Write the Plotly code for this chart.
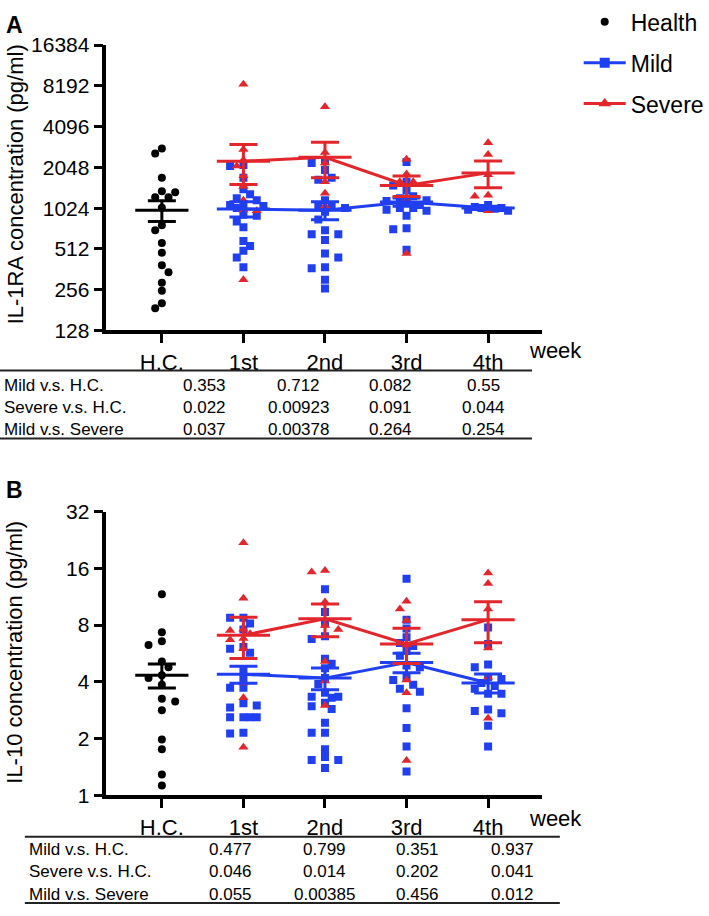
import numpy as np
import plotly.graph_objects as go

W, H = 709, 916
BLUE = '#1f3ff0'
RED = '#e2262c'
FONT = 'Liberation Sans, Arial, sans-serif'

groups = ['H.C.', '1st', '2nd', '3rd', '4th']
week_pos = [1, 2, 3, 4]

# ---- panel A: IL-1RA (pg/ml) ----
il1ra_health = [2820, 2597, 1716, 1364, 1343, 1235, 1235, 1030, 765, 704,
                567, 480, 388, 345, 288, 252, 203, 187]
il1ra_mild_w1 = [2133, 2098, 1718, 1410, 1297, 1213, 1174, 1099, 1081, 1063,
                 1029, 916, 901, 817, 739, 586, 539, 497, 443, 375]
il1ra_mild_w2 = [2279, 2205, 1961, 1718, 1661, 1174, 1081, 1081, 1029, 963,
                 844, 703, 658, 658, 596, 473, 443, 375, 369, 303, 261]
il1ra_mild_w3 = [2242, 1608, 1508, 1386, 1254, 1213, 1174, 1155, 1117, 1081,
                 1029, 1029, 996, 979, 901, 727, 715, 505]
il1ra_mild_w4 = [1081, 1046, 1029, 1013, 996, 1029, 979]
il1ra_severe_w1 = [8410, 2781, 2325, 2098, 1777, 1483, 1174, 994, 982, 303]
il1ra_severe_w2 = [5740, 2640, 2205, 1606, 1320, 1063]
il1ra_severe_w3 = [2353, 1835, 1608, 1608, 1193, 473]
il1ra_severe_w4 = [3115, 2555, 1805, 1274, 1254, 979]

il1ra_health_mean, il1ra_health_sem = 990, 174
il1ra_mild_mean = [1010, 990, 1136, 1029]
il1ra_mild_sem = [130, 150, 80, 25]
il1ra_severe_mean = [2279, 2430, 1508, 1866]
il1ra_severe_sem = [750, 710, 260, 415]
il1ra_ticks = [128, 256, 512, 1024, 2048, 4096, 8192, 16384]

# ---- panel B: IL-10 (pg/ml) ----
il10_health = [11.65, 7.33, 6.58, 6.28, 5.13, 4.78, 4.34, 4.19, 3.86, 3.26,
               3.15, 2.83, 1.98, 1.76, 1.29, 1.13]
il10_mild_w1 = [8.76, 8.76, 8.15, 7.59, 6.13, 5.99, 5.71, 4.66, 4.19, 3.72,
                3.72, 3.08, 3.00, 2.93, 2.60, 2.60, 2.60, 2.60, 2.15, 2.13]
il10_mild_w2 = [12.4, 9.4, 8.15, 6.99, 6.75, 5.31, 5.0, 4.72, 4.19, 3.9, 3.5,
                3.34, 3.3, 3.34, 3.1, 2.97, 2.87, 2.43, 2.15, 2.15, 1.76, 1.54,
                1.54, 1.60, 1.40]
il10_mild_w3 = [14.1, 8.55, 7.68, 6.90, 6.43, 6.20, 5.84, 5.51, 4.89, 4.78,
                4.24, 4.09, 3.86, 3.68, 3.55, 2.90, 2.28, 1.82, 1.34]
il10_mild_w4 = [7.78, 6.35, 4.95, 4.78, 4.24, 4.14, 3.95, 3.81, 3.68, 3.46,
                3.46, 2.86, 2.80, 2.73, 2.34, 1.82]
il10_severe_w1 = [21.9, 11.1, 7.6, 7.5, 7.2, 6.8, 6.7, 6.0, 3.95, 3.30, 1.80]
il10_severe_w2 = [15.3, 15.6, 10.6, 7.96, 7.59, 5.13, 4.04, 3.0]
il10_severe_w3 = [10.7, 9.75, 8.46, 6.28, 4.09, 3.5, 1.53]
il10_severe_w4 = [15.1, 13.3, 9.75, 6.06, 4.24, 2.57]

il10_health_mean, il10_health_sem = 4.34, 0.63
il10_mild_mean = [4.39, 4.19, 5.07, 3.95]
il10_mild_sem = [0.46, 0.55, 0.6, 0.46]
il10_severe_mean = [7.07, 8.65, 6.36, 8.55]
il10_severe_sem = [1.75, 1.7, 1.35, 2.1]
il10_ticks = [1, 2, 4, 8, 16, 32]

# ---- p-value tables ----
table_rows = ['Mild v.s. H.C.', 'Severe v.s. H.C.', 'Mild v.s. Severe']
il1ra_p = [['0.353', '0.712', '0.082', '0.55'],
           ['0.022', '0.00923', '0.091', '0.044'],
           ['0.037', '0.00378', '0.264', '0.254']]
il10_p = [['0.477', '0.799', '0.351', '0.937'],
          ['0.046', '0.014', '0.202', '0.041'],
          ['0.055', '0.00385', '0.456', '0.012']]


def fx(px):
    return px / W


def fy(py):
    return 1 - py / H


X0, X1 = 107, 545            # plot area in pixels
XRANGE = [-0.68, 4.66]
UNIT_PX = (X1 - X0) / (XRANGE[1] - XRANGE[0])


def swarm(values, center, oct_px, step=6.7, diam=8.0, max_n=3):
    # prism-like scatter: spread overlapping points sideways, at most max_n steps
    ys = np.log2(np.asarray(values, float)) * oct_px
    offs = np.zeros(len(ys))
    placed = []
    flip = False
    for i in np.argsort(-ys):
        cands = [0.0]
        for n in range(1, max_n + 1):
            pair = [n * step, -n * step]
            cands += pair if flip else pair[::-1]
        best, best_d = cands[0], -1
        for c in cands:
            d = min([np.hypot(c - a, ys[i] - b) for a, b in placed] or [99])
            if d >= diam:
                best = c
                break
            if d > best_d + 0.5:
                best, best_d = c, d
        if best != 0:
            flip = not flip
        placed.append((best, ys[i]))
        offs[i] = best
    return center + offs / UNIT_PX


fig = go.Figure()


def add_panel(xa, ya, oct_px, health, mild, severe, hmean, hsem,
              mmean, msem, smean, ssem):
    fig.add_trace(go.Scatter(
        x=swarm(health, 0, oct_px), y=health, mode='markers', xaxis=xa, yaxis=ya,
        marker=dict(symbol='circle', size=8, color='black'), showlegend=False))
    for k, vals in enumerate(mild):
        fig.add_trace(go.Scatter(
            x=swarm(vals, week_pos[k], oct_px), y=vals, mode='markers',
            xaxis=xa, yaxis=ya, showlegend=False,
            marker=dict(symbol='square', size=8, color=BLUE)))
    for k, vals in enumerate(severe):
        fig.add_trace(go.Scatter(
            x=swarm(vals, week_pos[k], oct_px), y=vals, mode='markers',
            xaxis=xa, yaxis=ya, showlegend=False,
            marker=dict(symbol='triangle-up', size=9, color=RED)))
    bar = dict(symbol='line-ew', size=38)
    fig.add_trace(go.Scatter(
        x=[0], y=[hmean], mode='markers', xaxis=xa, yaxis=ya, showlegend=False,
        marker=dict(**bar, color='black', line=dict(width=3, color='black')),
        error_y=dict(type='data', array=[hsem], color='black', thickness=3, width=14)))
    for mean, sem, col in [(mmean, msem, BLUE), (smean, ssem, RED)]:
        fig.add_trace(go.Scatter(
            x=week_pos, y=mean, mode='lines+markers', xaxis=xa, yaxis=ya,
            showlegend=False, line=dict(color=col, width=3),
            marker=dict(**bar, color=col, line=dict(width=3, color=col)),
            error_y=dict(type='data', array=sem, color=col, thickness=3, width=14)))


add_panel('x', 'y', (326 - 33) / 7, il1ra_health,
          [il1ra_mild_w1, il1ra_mild_w2, il1ra_mild_w3, il1ra_mild_w4],
          [il1ra_severe_w1, il1ra_severe_w2, il1ra_severe_w3, il1ra_severe_w4],
          il1ra_health_mean, il1ra_health_sem, il1ra_mild_mean, il1ra_mild_sem,
          il1ra_severe_mean, il1ra_severe_sem)
add_panel('x2', 'y2', (803.5 - 512) / 5, il10_health,
          [il10_mild_w1, il10_mild_w2, il10_mild_w3, il10_mild_w4],
          [il10_severe_w1, il10_severe_w2, il10_severe_w3, il10_severe_w4],
          il10_health_mean, il10_health_sem, il10_mild_mean, il10_mild_sem,
          il10_severe_mean, il10_severe_sem)

# legend-only entries
fig.add_trace(go.Scatter(x=[None], y=[None], mode='markers', name='Health',
                         legendgroup='h', marker=dict(symbol='circle', size=8, color='black')))
fig.add_trace(go.Scatter(x=[None], y=[None], mode='lines+markers', name='Mild',
                         legendgroup='m', line=dict(color=BLUE, width=3),
                         marker=dict(symbol='square', size=10, color=BLUE)))
fig.add_trace(go.Scatter(x=[None], y=[None], mode='lines+markers', name='Severe',
                         legendgroup='s', line=dict(color=RED, width=3),
                         marker=dict(symbol='triangle-up', size=11, color=RED)))

xcommon = dict(range=XRANGE, tickvals=[0, 1, 2, 3, 4], ticktext=groups,
               showline=True, linecolor='black', linewidth=3.5, ticks='outside',
               tickwidth=3, ticklen=9, tickcolor='black', showgrid=False,
               zeroline=False, tickfont=dict(size=22, color='black'))
ycommon = dict(type='log', showline=True, linecolor='black', linewidth=3.5,
               ticks='outside', tickwidth=3, ticklen=9, tickcolor='black',
               showgrid=False, zeroline=False, tickfont=dict(size=21, color='black'))

annotations = [
    dict(text='<b>A</b>', x=fx(4), y=fy(12), xanchor='left', yanchor='middle', font=dict(size=23)),
    dict(text='<b>B</b>', x=fx(4), y=fy(490), xanchor='left', yanchor='middle', font=dict(size=23)),
    dict(text='IL-1RA concentration (pg/ml)', textangle=-90, x=fx(15), y=fy(176),
         xanchor='center', yanchor='middle', font=dict(size=22)),
    dict(text='IL-10 concentration (pg/ml)', textangle=-90, x=fx(15), y=fy(656),
         xanchor='center', yanchor='middle', font=dict(size=22)),
    dict(text='week', x=fx(530), y=fy(347), xanchor='left', yanchor='middle', font=dict(size=22)),
    dict(text='week', x=fx(530), y=fy(827), xanchor='left', yanchor='middle', font=dict(size=22)),
]
shapes = []

tables = [
    dict(p=il1ra_p, x0=0, x1=535, label_x=2, cols=[206, 300, 393, 486],
         rows=[383, 405, 428], top=367, bottom=437),
    dict(p=il10_p, x0=25, x1=563, label_x=27, cols=[232, 326, 420, 515],
         rows=[859, 882, 905], top=846, bottom=914),
]
for t in tables:
    for r, label in enumerate(table_rows):
        annotations.append(dict(text=label, x=fx(t['label_x']), y=fy(t['rows'][r]),
                                xanchor='left', yanchor='middle', font=dict(size=17)))
        for c, val in enumerate(t['p'][r]):
            annotations.append(dict(text=val, x=fx(t['cols'][c]), y=fy(t['rows'][r]),
                                    xanchor='center', yanchor='middle', font=dict(size=17)))
    for yy in (t['top'], t['bottom']):
        shapes.append(dict(type='line', xref='paper', yref='paper', x0=fx(t['x0']),
                           x1=fx(t['x1']), y0=fy(yy), y1=fy(yy),
                           line=dict(color='#222222', width=2)))

for a in annotations:
    a.update(xref='paper', yref='paper', showarrow=False)

fig.update_layout(
    width=W, height=H, autosize=False,
    margin=dict(l=0, r=0, t=0, b=0),
    paper_bgcolor='white', plot_bgcolor='white',
    font=dict(family=FONT, color='black'),
    xaxis=dict(domain=[fx(X0), fx(X1)], anchor='y', **xcommon),
    yaxis=dict(domain=[fy(326), fy(33)], anchor='x',
               range=[np.log10(128), np.log10(16384)],
               tickvals=il1ra_ticks, ticktext=[str(t) for t in il1ra_ticks], **ycommon),
    xaxis2=dict(domain=[fx(X0), fx(X1)], anchor='y2', **xcommon),
    yaxis2=dict(domain=[fy(803.5), fy(512)], anchor='x2',
                range=[0, np.log10(32)],
                tickvals=il10_ticks, ticktext=[str(t) for t in il10_ticks], **ycommon),
    legend=dict(x=fx(582), y=fy(-13), xanchor='left', yanchor='top',
                font=dict(size=23, color='black'), tracegroupgap=8, itemwidth=42,
                traceorder='grouped', bgcolor='rgba(0,0,0,0)'),
    annotations=annotations,
    shapes=shapes,
)

fig.write_html("out.html", config={'displayModeBar': False},
               post_script="document.body.style.margin = '0px';")
